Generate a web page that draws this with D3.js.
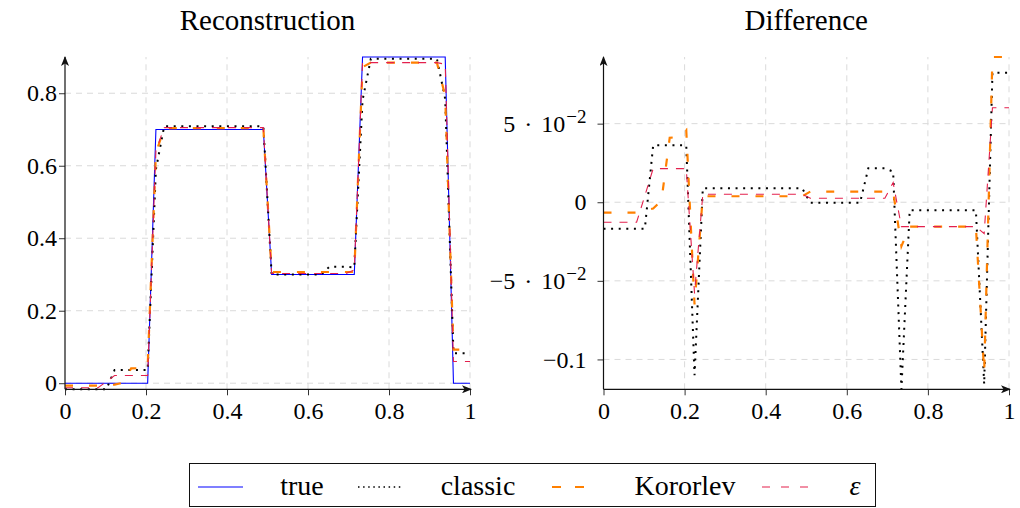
<!DOCTYPE html>
<html>
<head>
<meta charset="utf-8">
<script src="https://cdn.jsdelivr.net/npm/d3@7"></script>
<style>
  body { margin: 0; background: #fff; }
  svg { display: block; }
</style>
</head>
<body>
<svg id="chart"></svg>
<script>
const FONT = "'Liberation Serif', 'Times New Roman', Tinos, 'DejaVu Serif', serif";

// sample grid (50 cells on [0,1])
const xGrid = d3.range(50).map(i => i / 49);

// exact solution
const trueVals = [
  0, 0, 0, 0, 0, 0, 0, 0, 0, 0, 0,
  0.7, 0.7, 0.7, 0.7, 0.7, 0.7, 0.7, 0.7, 0.7, 0.7, 0.7, 0.7, 0.7, 0.7,
  0.3, 0.3, 0.3, 0.3, 0.3, 0.3, 0.3, 0.3, 0.3, 0.3, 0.3,
  0.9, 0.9, 0.9, 0.9, 0.9, 0.9, 0.9, 0.9, 0.9, 0.9, 0.9,
  0, 0, 0
];

const classicDiff = [
  -0.0168, -0.0168, -0.0168, -0.0168, -0.0168, -0.0168,
  0.0362, 0.0362, 0.0362, 0.0362, 0.0362,
  -0.110,
  0.0089, 0.0089, 0.0089, 0.0089, 0.0089, 0.0089, 0.0089, 0.0089, 0.0089, 0.0089, 0.0089, 0.0089, 0.0089,
  -0.0003, -0.0003, -0.0003, -0.0003, -0.0003, -0.0003, -0.0003,
  0.0216, 0.0216, 0.0216,
  0.0195,
  -0.119,
  -0.0051, -0.0051, -0.0051, -0.0051, -0.0051, -0.0051, -0.0051, -0.0051, -0.0051,
  -0.1157,
  0.0824, 0.0824, 0.0824
];
const korolevDiff = [
  -0.0066, -0.0066, -0.0066, -0.0066, -0.0066,
  -0.0052, -0.0040, 0.0010, 0.0410, 0.0415, 0.0460,
  -0.0650,
  0.0038, 0.0038, 0.0038, 0.0038, 0.0038, 0.0038, 0.0038, 0.0038, 0.0038, 0.0038, 0.0038, 0.0038, 0.0038,
  0.0068, 0.0068, 0.0068, 0.0068, 0.0068, 0.0068, 0.0068, 0.0068, 0.0068, 0.0068, 0.0068,
  -0.0280,
  -0.0155, -0.0155, -0.0155, -0.0155, -0.0155, -0.0155, -0.0155, -0.0155, -0.0155,
  -0.1080,
  0.0924, 0.0924, 0.0924
];
const epsDiff = [
  -0.0127, -0.0127, -0.0127, -0.0127, -0.0127,
  0.0042,
  0.0214, 0.0214, 0.0214, 0.0214, 0.0214,
  -0.058,
  0.0051, 0.0051, 0.0051, 0.0051, 0.0051, 0.0051, 0.0051, 0.0051, 0.0051, 0.0051, 0.0051, 0.0051, 0.0051,
  0.0025, 0.0025, 0.0025, 0.0025, 0.0025, 0.0025, 0.0025, 0.0025, 0.0025, 0.0025,
  0.0125,
  -0.0155, -0.0155, -0.0155, -0.0155, -0.0155, -0.0155, -0.0155, -0.0155, -0.0155, -0.0155,
  -0.0200,
  0.0601, 0.0601, 0.0601
];

const seriesNames = ["true", "classic", "Kororlev", "ε"];
const panelTitles = ["Reconstruction", "Difference"];

const xTicks = [0, 0.2, 0.4, 0.6, 0.8, 1];
const xTickLabels = ["0", "0.2", "0.4", "0.6", "0.8", "1"];
const leftYTicks = [0, 0.2, 0.4, 0.6, 0.8];
const leftYTickLabels = ["0", "0.2", "0.4", "0.6", "0.8"];
const rightYTicks = [0.05, 0, -0.05, -0.1];
// mantissa / exponent of the right tick labels
const rightYTickLabels = [["5", "−2"], ["0"], ["−5", "−2"], ["−0.1"]];

// line styles
const styles = {
  "true":     { stroke: "#0000ff", width: 1.1, dash: null },
  "classic":  { stroke: "#000000", width: 2, dash: "2,5.6" },
  "Kororlev": { stroke: "#ff8000", width: 2.2, dash: "8,16" },
  "ε":        { stroke: "#e3204d", width: 1.1, dash: "8,8" }
};

const width = 1020, height = 508;
const svg = d3.select("#chart").attr("width", width).attr("height", height);

// arrow head for the axes
svg.append("defs").append("marker")
  .attr("id", "arrow")
  .attr("viewBox", "0 0 10 8")
  .attr("refX", 9).attr("refY", 4)
  .attr("markerUnits", "userSpaceOnUse")
  .attr("markerWidth", 10).attr("markerHeight", 8)
  .attr("orient", "auto")
  .append("path")
  .attr("d", "M0,0 L10,4 L0,8 L2.5,4 Z")
  .attr("fill", "#111");

// build series for both panels
const recon = {
  "true": trueVals,
  "classic": trueVals.map((v, i) => v + classicDiff[i]),
  "Kororlev": trueVals.map((v, i) => v + korolevDiff[i]),
  "ε": trueVals.map((v, i) => v + epsDiff[i])
};
const diffs = {
  "classic": classicDiff,
  "Kororlev": korolevDiff,
  "ε": epsDiff
};

function drawPanel(cfg) {
  const g = svg.append("g");
  const allVals = Object.values(cfg.series).flat();
  const x = d3.scaleLinear().domain([0, 1]).range([cfg.x0, cfg.x1]);
  const y = d3.scaleLinear().domain(d3.extent(allVals)).range([389.3, 57]);

  // grid
  g.append("g").selectAll("line").data(xTicks.slice(1)).join("line")
    .attr("x1", d => x(d)).attr("x2", d => x(d))
    .attr("y1", y.range()[0]).attr("y2", y.range()[1])
    .attr("stroke", "#dadada").attr("stroke-dasharray", "6,5");
  g.append("g").selectAll("line").data(cfg.yTicks).join("line")
    .attr("x1", x(0)).attr("x2", x(1))
    .attr("y1", d => y(d)).attr("y2", d => y(d))
    .attr("stroke", "#dadada").attr("stroke-dasharray", "6,5");

  // series
  const line = d3.line().x((d, i) => x(xGrid[i])).y(d => y(d));
  Object.entries(cfg.series).forEach(([name, vals]) => {
    const s = styles[name];
    g.append("path")
      .attr("d", line(vals))
      .attr("fill", "none")
      .attr("stroke", s.stroke)
      .attr("stroke-width", s.width)
      .attr("stroke-dasharray", s.dash);
  });

  // x axis ticks and labels
  const xAxis = g.append("g")
    .attr("transform", `translate(0,${y.range()[0]})`)
    .call(d3.axisBottom(x).tickValues(xTicks)
      .tickFormat((d, i) => xTickLabels[i])
      .tickSize(6).tickSizeOuter(0).tickPadding(7));
  xAxis.attr("font-family", FONT).attr("font-size", 24);
  xAxis.select(".domain").remove();
  xAxis.selectAll("line").attr("stroke", "#333");

  // y axis ticks
  const yAxis = g.append("g")
    .attr("transform", `translate(${x(0)},0)`)
    .call(d3.axisLeft(y).tickValues(cfg.yTicks).tickFormat("").tickSize(6).tickSizeOuter(0));
  yAxis.select(".domain").remove();
  yAxis.selectAll("line").attr("stroke", "#333");

  // y tick labels (mantissa · 10^exponent where needed)
  const lab = g.append("g").selectAll("text").data(cfg.yTicks).join("text")
    .attr("x", cfg.x0 - cfg.labelGap)
    .attr("y", d => y(d))
    .attr("dy", "0.34em")
    .attr("text-anchor", "end")
    .attr("font-family", FONT)
    .attr("font-size", 24);
  lab.each(function (d, i) {
    const parts = cfg.yTickLabels[i];
    const t = d3.select(this);
    t.append("tspan").text(parts[0]);
    if (parts[1]) {
      t.append("tspan").attr("dx", 9).text("·");
      t.append("tspan").attr("dx", 9).text("10");
      t.append("tspan").attr("dx", 1).attr("dy", "-0.45em").attr("font-size", 19).text(parts[1]);
    }
  });

  // axis lines with arrows
  g.append("line")
    .attr("x1", x(0)).attr("x2", x(1) + 1)
    .attr("y1", y.range()[0]).attr("y2", y.range()[0])
    .attr("stroke", "#111").attr("stroke-width", 1.2)
    .attr("marker-end", "url(#arrow)");
  g.append("line")
    .attr("x1", x(0)).attr("x2", x(0))
    .attr("y1", y.range()[0]).attr("y2", y.range()[1])
    .attr("stroke", "#111").attr("stroke-width", 1.2)
    .attr("marker-end", "url(#arrow)");

  // title
  g.append("text")
    .attr("x", (cfg.x0 + cfg.x1) / 2).attr("y", 30)
    .attr("text-anchor", "middle")
    .attr("font-family", FONT)
    .attr("font-size", 29)
    .text(cfg.title);
}

drawPanel({
  x0: 65, x1: 470,
  series: recon,
  yTicks: leftYTicks,
  yTickLabels: leftYTickLabels.map(d => [d]),
  labelGap: 8,
  title: panelTitles[0]
});
drawPanel({
  x0: 603.5, x1: 1009,
  series: diffs,
  yTicks: rightYTicks,
  yTickLabels: rightYTickLabels,
  labelGap: 17,
  title: panelTitles[1]
});

// legend
const legend = svg.append("g");
legend.append("rect")
  .attr("x", 189.5).attr("y", 463.5).attr("width", 686).attr("height", 43)
  .attr("fill", "#fff").attr("stroke", "#111").attr("stroke-width", 1);
const legendSamples = [[198, 243], [358, 403], [552, 592], [762, 810]];
const legendDash = { "true": null, "classic": "1.5,3.6", "Kororlev": "9,14", "ε": "8,11" };
const legendText = [302, 478, 685, 855];
seriesNames.forEach((name, i) => {
  const s = styles[name];
  legend.append("line")
    .attr("x1", legendSamples[i][0]).attr("x2", legendSamples[i][1])
    .attr("y1", 487).attr("y2", 487)
    .attr("stroke", s.stroke)
    .attr("stroke-width", name === "classic" ? 1.6 : s.width)
    .attr("stroke-dasharray", legendDash[name]);
  legend.append("text")
    .attr("x", legendText[i]).attr("y", 495)
    .attr("text-anchor", "middle")
    .attr("font-family", FONT)
    .attr("font-size", 28)
    .attr("font-style", name === "ε" ? "italic" : null)
    .text(name);
});
</script>
</body>
</html>
